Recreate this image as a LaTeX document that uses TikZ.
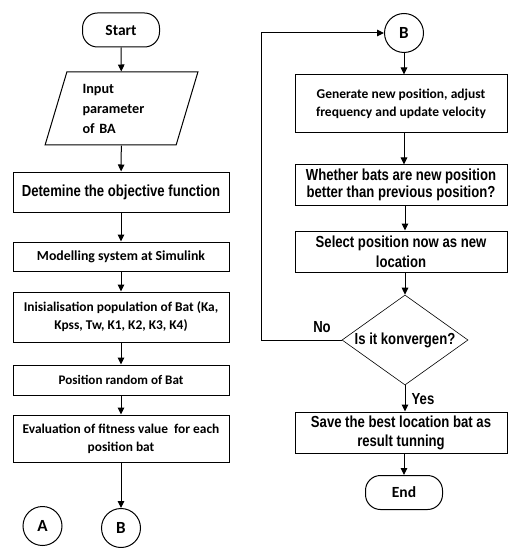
\documentclass[tikz,border=0pt]{standalone}
\usepackage{fontspec}
\newfontfamily\calfont{Carlito}
\newfontfamily\arifont[FakeStretch=0.82]{Liberation Sans}
\usetikzlibrary{shapes.geometric,arrows.meta,calc}
\begin{document}
\begin{tikzpicture}[x=1pt,y=-1pt,
  line width=1pt,
  arr/.style={-{Triangle[length=7pt,width=6.5pt]}},
  lbox/.style={draw,rectangle,minimum width=216pt,inner sep=2pt,align=center,font=\calfont\bfseries\fontsize{13.4}{18}\selectfont},
  rboxc/.style={draw,rectangle,minimum width=212pt,inner sep=2pt,align=center,font=\calfont\bfseries\fontsize{13.5}{18}\selectfont},
  rboxa/.style={draw,rectangle,minimum width=212pt,inner sep=2pt,align=center,font=\arifont\bfseries\fontsize{16}{17}\selectfont},
  term/.style={draw,rectangle,rounded corners=15pt,minimum width=77pt,minimum height=34pt,font=\calfont\bfseries\fontsize{15.5}{18}\selectfont},
  conn/.style={draw,circle,minimum size=39pt,inner sep=0pt,font=\calfont\bfseries\fontsize{17}{18}\selectfont},
  lbl/.style={font=\arifont\bfseries\fontsize{16}{17}\selectfont}]
\useasboundingbox (0,0) rectangle (508,548);
% left column
\node[term] (start) at (121,30) {Start};
\node[draw,trapezium,trapezium left angle=72.5,trapezium right angle=107.5,trapezium stretches=true,minimum width=153pt,minimum height=73pt,inner sep=0pt,text width=78pt,align=left,font=\calfont\bfseries\fontsize{14.2}{20}\selectfont] (inp) at (121.5,108.5) {Input\\parameter\\of BA};
\node[lbox,minimum height=40pt,font=\arifont\bfseries\fontsize{16}{17}\selectfont] (b1) at (121,192) {Detemine the objective function};
\node[lbox,minimum height=29pt,font=\calfont\bfseries\fontsize{13.8}{18}\selectfont] (b2) at (121,256.5) {Modelling system at Simulink};
\node[lbox,minimum height=50pt] (b3) at (121,317) {Inisialisation population of Bat (Ka,\\Kpss, Tw, K1, K2, K3, K4)};
\node[lbox,minimum height=30pt,font=\calfont\bfseries\fontsize{13.1}{18}\selectfont] (b4) at (121,380) {Position random of Bat};
\node[lbox,minimum height=47pt] (b5) at (121,438.5) {Evaluation of fitness value\ \ for each\\position bat};
\node[conn] (bb) at (121,528) {B};
\node[conn] (aa) at (42.5,526) {A};
\draw[arr] (start) -- (inp);
\draw[arr] (inp) -- (b1);
\draw[arr] (b1) -- (b2);
\draw[arr] (b2) -- (b3);
\draw[arr] (b3) -- (b4);
\draw[arr] (b4) -- (b5);
\draw[arr] (b5) -- (bb);
% right column
\node[conn] (bt) at (404,33) {B};
\node[rboxc,minimum height=58pt] (g) at (401,104) {Generate new position, adjust\\frequency and update velocity};
\node[rboxa,minimum height=40pt] (w) at (401,185) {Whether bats are new position\\better than previous position?};
\node[rboxa,minimum height=41pt,font=\arifont\bfseries\fontsize{16}{20}\selectfont] (s) at (401,251.5) {Select position now as new\\location};
\node[draw,diamond,aspect=1.4,minimum width=126pt,minimum height=90pt,inner sep=0pt,line width=0.6pt,font=\arifont\bfseries\fontsize{16}{17}\selectfont] (d) at (405,340) {Is it konvergen?};
\node[rboxa,minimum height=41pt,font=\arifont\bfseries\fontsize{16}{19}\selectfont] (sv) at (401,432.5) {Save the best location bat as\\result tunning};
\node[term] (end) at (404,492.5) {End};
\draw[arr] (bt) -- (bt |- g.north);
\draw[arr] (g.south -| bt) -- (w.north -| bt);
\draw[arr] (w.south -| d) -- (s.north -| d);
\draw[arr] (s.south -| d) -- (d.north);
\draw[arr] (d.south) -- (sv.north -| d);
\draw[arr] (sv.south -| end) -- (end.north);
\coordinate (lp) at (261,340);
\draw[arr] (d.west) -- (lp) |- (bt.west);
\node[lbl] (no) at (322,327) {No};
\node[lbl] (yes) at (423,399) {Yes};
\end{tikzpicture}
\end{document}
